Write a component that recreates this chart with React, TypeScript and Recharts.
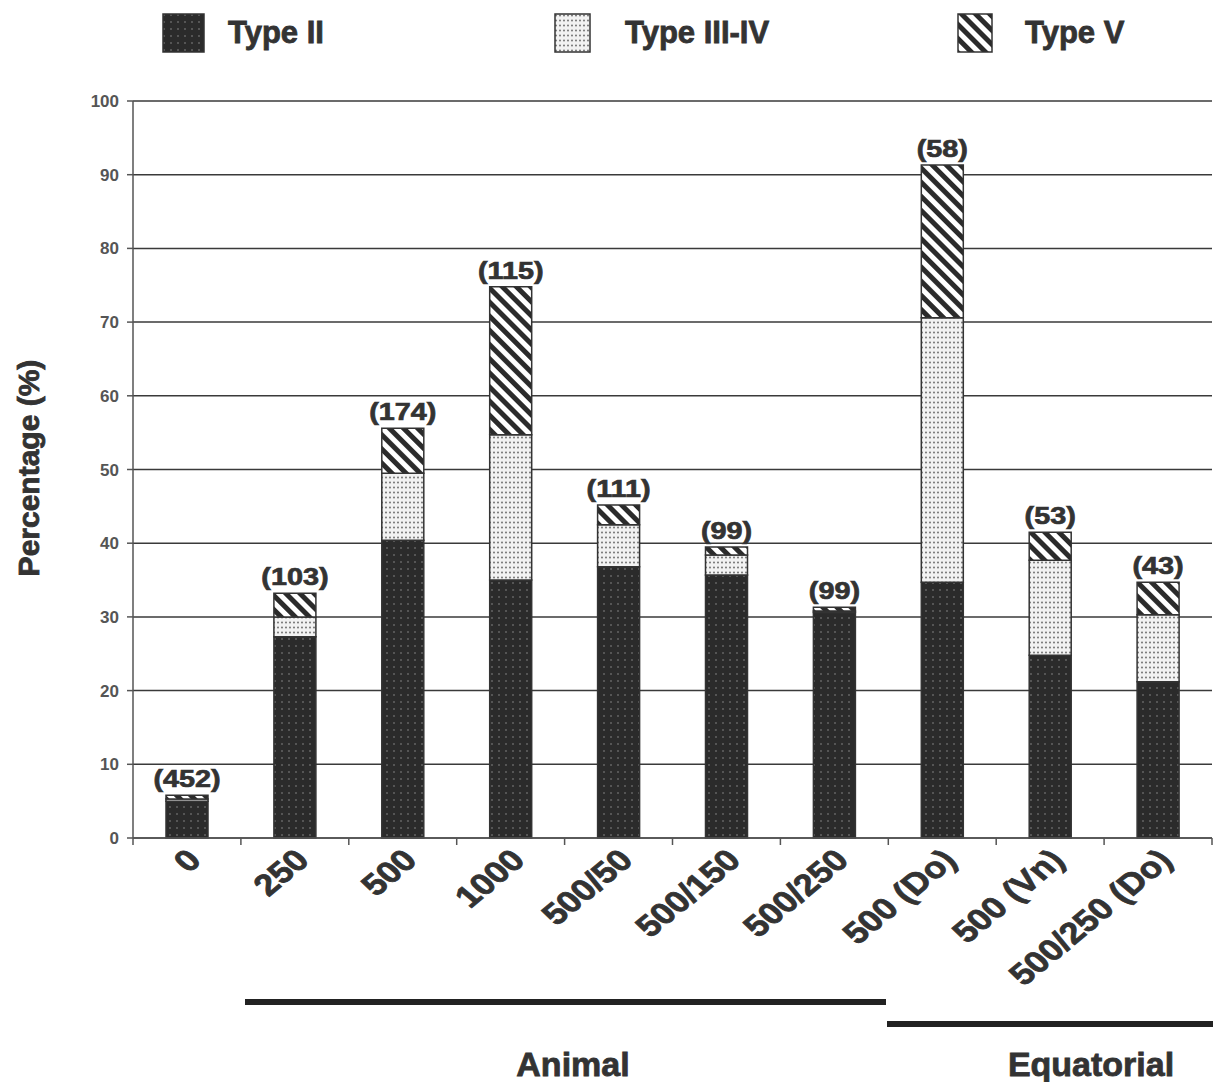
import React from 'react'
import { BarChart, Bar, XAxis, YAxis, CartesianGrid, LabelList } from 'recharts'

const categories = ['0', '250', '500', '1000', '500/50', '500/150', '500/250', '500 (Do)', '500 (Vn)', '500/250 (Do)']
const typeII = [5.0, 27.3, 40.4, 35.0, 36.8, 35.7, 30.6, 34.7, 24.8, 21.2]
const typeIIIIV = [0.3, 2.7, 9.1, 19.7, 5.7, 2.7, 0.2, 35.9, 12.9, 9.1]
const typeV = [0.5, 3.2, 6.1, 20.1, 2.7, 1.1, 0.5, 20.7, 3.8, 4.4]
const counts = ['(452)', '(103)', '(174)', '(115)', '(111)', '(99)', '(99)', '(58)', '(53)', '(43)']
const yTicks = [0, 10, 20, 30, 40, 50, 60, 70, 80, 90, 100]

const data = categories.map((name, i) => ({
  name,
  typeII: typeII[i],
  typeIIIIV: typeIIIIV[i],
  typeV: typeV[i],
  n: counts[i],
}))

const W = 1221
const H = 1090
const PLOT_LEFT = 133
const PLOT_RIGHT = 1212
const PLOT_TOP = 101
const PLOT_BOTTOM = 838
const BAND = (PLOT_RIGHT - PLOT_LEFT) / categories.length
const INK = '#333'
const FONT = '"Liberation Sans", Arial, sans-serif'
// the scan's type is heavier than Liberation bold, so thicken it a bit
const heavy = { WebkitTextStroke: '0.8px #333' } as React.CSSProperties
// the scan is a little stretched sideways
const STRETCH = 1.2

function Patterns({ p }: { p: string }) {
  return (
    <defs>
      <pattern id={p + 'dark'} width="7" height="7" patternUnits="userSpaceOnUse">
        <rect width="7" height="7" fill="#2b2b2b" />
        <circle cx="2" cy="2" r="0.8" fill="#8a8a8a" />
      </pattern>
      <pattern id={p + 'light'} width="4" height="5" patternUnits="userSpaceOnUse">
        <rect width="4" height="5" fill="#f2f2f2" />
        <circle cx="2" cy="2.5" r="0.9" fill="#666" />
      </pattern>
      <pattern id={p + 'hatch'} width="10" height="10" patternUnits="userSpaceOnUse" patternTransform="rotate(-45)">
        <rect width="10" height="10" fill="#fff" />
        <rect width="5" height="10" fill="#2b2b2b" />
      </pattern>
    </defs>
  )
}

const XTick = (props: any) => {
  const { x, y, payload, index } = props
  const last = index === categories.length - 1
  return (
    <g>
      <line x1={x - BAND / 2} x2={x - BAND / 2} y1={y} y2={y + 7} stroke="#555" strokeWidth={1.5} />
      {last && <line x1={x + BAND / 2} x2={x + BAND / 2} y1={y} y2={y + 7} stroke="#555" strokeWidth={1.5} />}
      <text
        transform={`translate(${x + 16},${y + 24}) scale(${STRETCH},1) rotate(-45)`}
        textAnchor="end"
        fontSize={30}
        fontWeight="bold"
        fontFamily={FONT}
        fill={INK}
        stroke={INK}
        strokeWidth={0.8}
      >
        {payload.value}
      </text>
    </g>
  )
}

const CountLabel = (props: any) => {
  const { x, y, width, value } = props
  return (
    <text
      transform={`translate(${x + width / 2},${y - 8}) scale(${STRETCH},1)`}
      textAnchor="middle"
      fontSize={24}
      fontWeight="bold"
      fontFamily={FONT}
      fill={INK}
      stroke={INK}
      strokeWidth={0.7}
    >
      {value}
    </text>
  )
}

function Swatch({ id, w }: { id: string; w: number }) {
  return (
    <svg width={w + 2} height={40} style={{ display: 'block' }}>
      <Patterns p="lg" />
      <rect x={1} y={1} width={w} height={38} fill={`url(#lg${id})`} stroke={INK} strokeWidth={1.5} />
    </svg>
  )
}

const legendItems = [
  { label: 'Type II', id: 'dark', left: 162, w: 41, textLeft: 228 },
  { label: 'Type III-IV', id: 'light', left: 554, w: 35, textLeft: 625 },
  { label: 'Type V', id: 'hatch', left: 957, w: 34, textLeft: 1025 },
]

export default function App() {
  return (
    <div style={{ position: 'relative', width: W, height: H, margin: -8, background: '#fff', fontFamily: FONT }}>
      {legendItems.map((it) => (
        <React.Fragment key={it.label}>
          <div style={{ position: 'absolute', left: it.left, top: 13 }}>
            <Swatch id={it.id} w={it.w} />
          </div>
          <div
            style={{
              position: 'absolute',
              left: it.textLeft,
              top: 33,
              transform: 'translateY(-50%)',
              fontSize: 31,
              fontWeight: 'bold',
              color: INK,
              whiteSpace: 'nowrap',
              ...heavy,
            }}
          >
            {it.label}
          </div>
        </React.Fragment>
      ))}

      <div
        style={{
          position: 'absolute',
          left: 29,
          top: 468,
          transform: 'translate(-50%, -50%) rotate(-90deg)',
          fontSize: 30,
          fontWeight: 'bold',
          color: INK,
          whiteSpace: 'nowrap',
          ...heavy,
        }}
      >
        Percentage (%)
      </div>

      <div style={{ position: 'absolute', left: 0, top: 0 }}>
        <BarChart
          width={W}
          height={H}
          data={data}
          margin={{ top: PLOT_TOP, right: W - PLOT_RIGHT, bottom: 0, left: 0 }}
          barSize={42}
        >
          <Patterns p="c" />
          <CartesianGrid vertical={false} stroke="#3a3a3a" strokeWidth={1.5} />
          <YAxis
            width={PLOT_LEFT}
            domain={[0, 100]}
            ticks={yTicks}
            interval={0}
            tickSize={6}
            tickMargin={8}
            tick={{ fill: '#555', fontSize: 17, fontWeight: 'bold', fontFamily: FONT }}
            axisLine={{ stroke: '#555', strokeWidth: 1.5 }}
            tickLine={{ stroke: '#555', strokeWidth: 1.5 }}
          />
          <XAxis
            dataKey="name"
            height={H - PLOT_BOTTOM}
            interval={0}
            tickSize={0}
            tickMargin={0}
            tickLine={false}
            axisLine={{ stroke: '#555', strokeWidth: 1.5 }}
            tick={<XTick />}
          />
          <Bar dataKey="typeII" stackId="a" fill="url(#cdark)" stroke={INK} strokeWidth={1.5} isAnimationActive={false} />
          <Bar dataKey="typeIIIIV" stackId="a" fill="url(#clight)" stroke={INK} strokeWidth={1.5} isAnimationActive={false} />
          <Bar dataKey="typeV" stackId="a" fill="url(#chatch)" stroke={INK} strokeWidth={1.5} isAnimationActive={false}>
            <LabelList dataKey="n" content={<CountLabel />} />
          </Bar>
        </BarChart>
      </div>

      <div style={{ position: 'absolute', left: 245, top: 999, width: 641, height: 6, background: '#222' }} />
      <div style={{ position: 'absolute', left: 887, top: 1021, width: 334, height: 6, background: '#222' }} />
      <div
        style={{ position: 'absolute', left: 573, top: 1064, transform: 'translate(-50%, -50%)', fontSize: 34, fontWeight: 'bold', color: INK, ...heavy }}
      >
        Animal
      </div>
      <div
        style={{ position: 'absolute', left: 1091, top: 1064, transform: 'translate(-50%, -50%)', fontSize: 34, fontWeight: 'bold', color: INK, ...heavy }}
      >
        Equatorial
      </div>
    </div>
  )
}
